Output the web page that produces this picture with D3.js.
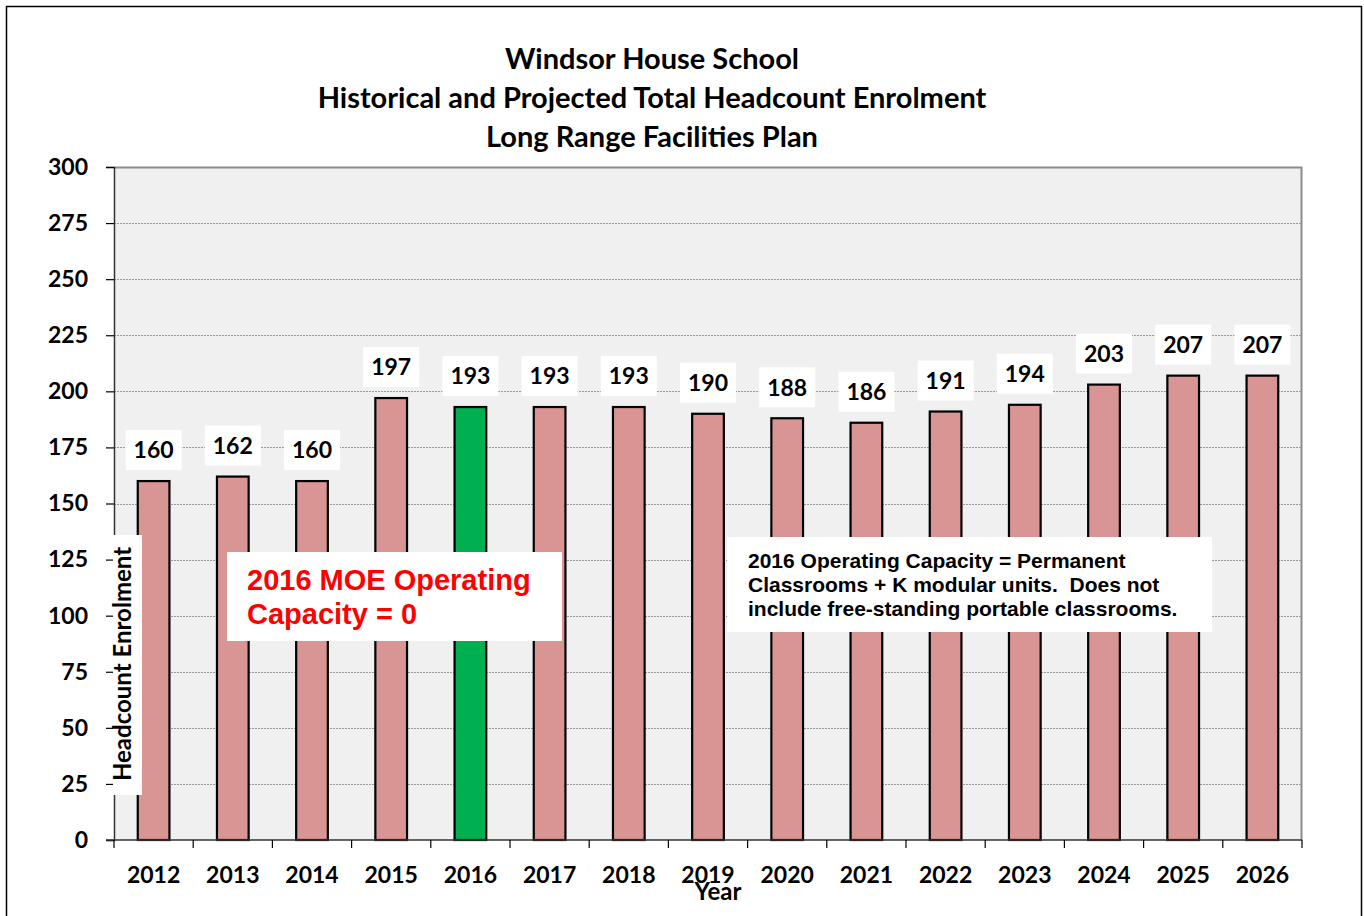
<!DOCTYPE html>
<html>
<head>
<meta charset="utf-8">
<script src="https://cdn.jsdelivr.net/npm/d3@7"></script>
<style>
  body { margin: 0; background: #fff; }
  svg { display: block; }
</style>
</head>
<body>
<div id="chart"></div>
<script>
// data
var years = ["2012", "2013", "2014", "2015", "2016", "2017", "2018", "2019", "2020", "2021", "2022", "2023", "2024", "2025", "2026"];
var enrolment = [160, 162, 160, 197, 193, 193, 193, 190, 188, 186, 191, 194, 203, 207, 207];
var highlightYear = "2016";
var yTicks = [0, 25, 50, 75, 100, 125, 150, 175, 200, 225, 250, 275, 300];
var titleLines = ["Windsor House School", "Historical and Projected Total Headcount Enrolment", "Long Range Facilities Plan"];
var noteRed = ["2016 MOE Operating", "Capacity = 0"];
var noteBlack = ["2016 Operating Capacity = Permanent", "Classrooms + K modular units.  Does not", "include free-standing portable classrooms."];

var W = 1364, H = 916;
var margin = { top: 167, right: 62, bottom: 76, left: 114 },
  width = 1302 - margin.left,
  height = 840 - margin.top;

var font = "Lato, 'Open Sans', sans-serif";
var arial = "'Liberation Sans', Arial, sans-serif";

var svg = d3.select("#chart")
  .append("svg")
  .attr("width", W)
  .attr("height", H);

// outer frame
svg.append("rect")
  .attr("x", 6.5).attr("y", 6.5)
  .attr("width", 1355).attr("height", 920)
  .attr("fill", "none")
  .attr("stroke", "#000")
  .attr("stroke-width", 1.5);

// title
svg.append("g").selectAll("text")
  .data(titleLines)
  .enter()
  .append("text")
  .attr("x", 652)
  .attr("y", function (d, i) { return 69 + i * 39; })
  .attr("text-anchor", "middle")
  .style("font-family", font)
  .style("font-weight", "bold")
  .style("font-size", "29px")
  .text(function (d) { return d; });

var g = svg.append("g")
  .attr("transform", "translate(" + margin.left + "," + margin.top + ")");

var x = d3.scaleBand().domain(years).range([0, width]).padding(0);
var y = d3.scaleLinear().domain([0, 300]).range([height, 0]);
var barW = x.bandwidth() * 0.4;

// plot background
g.append("rect")
  .attr("width", width).attr("height", height)
  .attr("fill", "#f0f0f0");

// gridlines
g.append("g").selectAll("line")
  .data(yTicks.filter(function (d) { return d > 0 && d < 300; }))
  .enter()
  .append("line")
  .attr("x1", 0).attr("x2", width)
  .attr("y1", function (d) { return Math.round(y(d)) + 0.5; })
  .attr("y2", function (d) { return Math.round(y(d)) + 0.5; })
  .attr("stroke", "#999")
  .attr("stroke-width", 1)
  .attr("stroke-dasharray", "2,1");

// plot border top/right
g.append("path")
  .attr("d", "M0,0.5H" + (width - 0.5) + "V" + height)
  .attr("fill", "none")
  .attr("stroke", "#8c8c8c")
  .attr("stroke-width", 2);

// bars
g.selectAll(".bar")
  .data(years)
  .enter()
  .append("rect")
  .attr("class", "bar")
  .attr("x", function (d) { return x(d) + x.bandwidth() / 2 - barW / 2; })
  .attr("y", function (d, i) { return y(enrolment[i]); })
  .attr("width", barW)
  .attr("height", function (d, i) { return height - y(enrolment[i]); })
  .attr("fill", function (d) { return d === highlightYear ? "#00b050" : "#d99594"; })
  .attr("stroke", "#000")
  .attr("stroke-width", 2.2);

// value labels with white boxes
var lab = g.selectAll(".lab")
  .data(years)
  .enter()
  .append("g")
  .attr("class", "lab")
  .attr("transform", function (d, i) {
    return "translate(" + (x(d) + x.bandwidth() / 2) + "," + (y(enrolment[i]) - 31) + ")";
  });
lab.append("rect")
  .attr("x", -28).attr("y", -20)
  .attr("width", 56).attr("height", 40)
  .attr("fill", "#fff");
lab.append("text")
  .attr("text-anchor", "middle")
  .attr("dy", "0.36em")
  .style("font-family", font)
  .style("font-weight", "bold")
  .style("font-size", "23px")
  .text(function (d, i) { return enrolment[i]; });

// y axis
var yAxis = g.append("g")
  .call(d3.axisLeft(y).tickValues(yTicks).tickSize(8).tickPadding(18));
yAxis.select(".domain").attr("stroke", "#333").attr("stroke-width", 1.5);
yAxis.selectAll(".tick line").attr("stroke", "#000").attr("stroke-width", 1.2);
yAxis.selectAll(".tick text")
  .style("font-family", font)
  .style("font-weight", "bold")
  .style("font-size", "23px")
  .attr("fill", "#000");

// x axis: ticks between categories
var xAxis = g.append("g")
  .attr("transform", "translate(0," + height + ")");
xAxis.append("line")
  .attr("x1", -8).attr("x2", width)
  .attr("stroke", "#333").attr("stroke-width", 1.5);
xAxis.selectAll(".xt")
  .data(years.concat(["end"]))
  .enter()
  .append("line")
  .attr("class", "xt")
  .attr("x1", function (d, i) { return i * x.step(); })
  .attr("x2", function (d, i) { return i * x.step(); })
  .attr("y1", 0).attr("y2", 8)
  .attr("stroke", "#000").attr("stroke-width", 1.2);
xAxis.selectAll(".xl")
  .data(years)
  .enter()
  .append("text")
  .attr("class", "xl")
  .attr("x", function (d) { return x(d) + x.bandwidth() / 2; })
  .attr("y", 43)
  .attr("text-anchor", "middle")
  .style("font-family", font)
  .style("font-weight", "bold")
  .style("font-size", "23px")
  .text(function (d) { return d; });

// x axis title
svg.append("text")
  .attr("x", 718).attr("y", 900)
  .attr("text-anchor", "middle")
  .style("font-family", font)
  .style("font-weight", "bold")
  .style("font-size", "24px")
  .text("Year");

// y axis title with white box
svg.append("rect")
  .attr("x", 113).attr("y", 535)
  .attr("width", 29).attr("height", 260)
  .attr("fill", "#fff");
svg.append("text")
  .attr("transform", "translate(131,664) rotate(-90)")
  .attr("text-anchor", "middle")
  .style("font-family", font)
  .style("font-weight", "bold")
  .style("font-size", "24px")
  .text("Headcount Enrolment");

// red note
svg.append("rect")
  .attr("x", 227).attr("y", 552)
  .attr("width", 335).attr("height", 89)
  .attr("fill", "#fff");
svg.append("g").selectAll("text")
  .data(noteRed)
  .enter()
  .append("text")
  .attr("x", 247)
  .attr("y", function (d, i) { return 590 + i * 34; })
  .style("font-family", arial)
  .style("font-weight", "bold")
  .style("font-size", "29px")
  .attr("fill", "#ff0000")
  .text(function (d) { return d; });

// black note
svg.append("rect")
  .attr("x", 727).attr("y", 537)
  .attr("width", 485).attr("height", 95)
  .attr("fill", "#fff");
svg.append("g").selectAll("text")
  .data(noteBlack)
  .enter()
  .append("text")
  .attr("x", 748)
  .attr("y", function (d, i) { return 568 + i * 24; })
  .style("font-family", arial)
  .style("font-weight", "bold")
  .style("font-size", "21px")
  .style("white-space", "pre")
  .attr("fill", "#000")
  .text(function (d) { return d; });
</script>
</body>
</html>
